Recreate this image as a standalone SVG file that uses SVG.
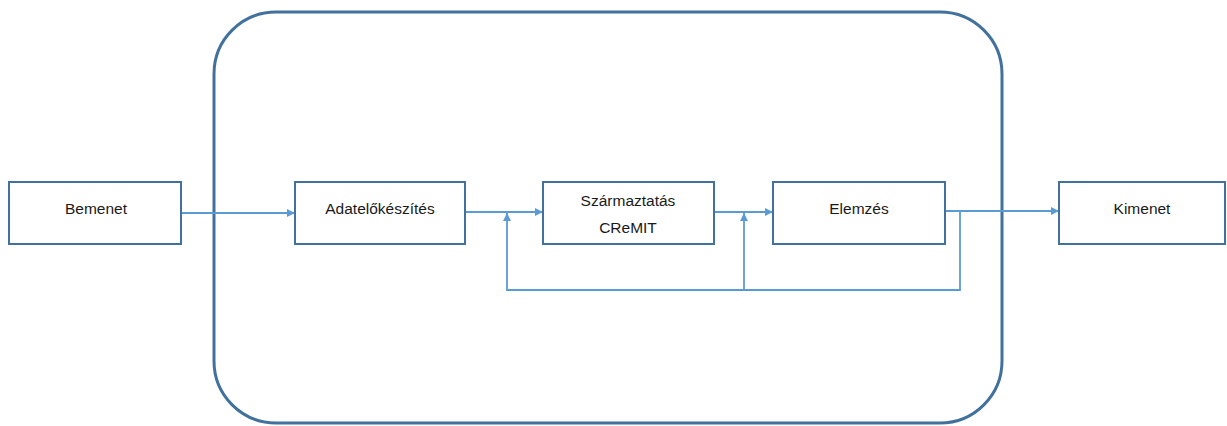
<svg xmlns="http://www.w3.org/2000/svg" width="1227" height="426" viewBox="0 0 1227 426">
<style>
.box{fill:#fff;stroke:#41719C;stroke-width:2}
.frame{fill:none;stroke:#41719C;stroke-width:3}
.conn{fill:none;stroke:#5B9BD5;stroke-width:1.8}
.lbl{font-family:"Liberation Sans",Arial,sans-serif;font-size:15.5px;fill:#1a1a1a;text-anchor:middle}
</style>
<defs>
<marker id="ah" viewBox="0 0 10 10" refX="10" refY="5" markerWidth="8" markerHeight="8" markerUnits="userSpaceOnUse" orient="auto">
<path d="M0,0 L10,5 L0,10 z" fill="#5B9BD5"/>
</marker>
</defs>
<rect id="frame" class="frame" x="214" y="12" width="788" height="411" rx="62" ry="62"/>
<g id="connectors">
<line class="conn" x1="181" y1="213" x2="295" y2="213" marker-end="url(#ah)"/>
<line class="conn" x1="465" y1="212" x2="543" y2="212" marker-end="url(#ah)"/>
<line class="conn" x1="714" y1="212" x2="773" y2="212" marker-end="url(#ah)"/>
<line class="conn" x1="945" y1="211" x2="1059" y2="211" marker-end="url(#ah)"/>
<path class="conn" d="M960,211 V290 H507 V213" marker-end="url(#ah)"/>
<path class="conn" d="M744,290 V213" marker-end="url(#ah)"/>
</g>
<g id="bemenet">
<rect class="box" x="9" y="182" width="172" height="62"/>
<text class="lbl" x="96" y="214">Bemenet</text>
</g>
<g id="adatelokeszites">
<rect class="box" x="295" y="182" width="170" height="62"/>
<text class="lbl" x="380" y="214">Adatelőkészítés</text>
</g>
<g id="szarmaztatas">
<rect class="box" x="543" y="182" width="171" height="62"/>
<text class="lbl" x="628" y="206">Származtatás</text>
<text class="lbl" x="628" y="233">CReMIT</text>
</g>
<g id="elemzes">
<rect class="box" x="773" y="182" width="172" height="62"/>
<text class="lbl" x="859" y="214">Elemzés</text>
</g>
<g id="kimenet">
<rect class="box" x="1059" y="182" width="166" height="62"/>
<text class="lbl" x="1142" y="214">Kimenet</text>
</g>
</svg>
